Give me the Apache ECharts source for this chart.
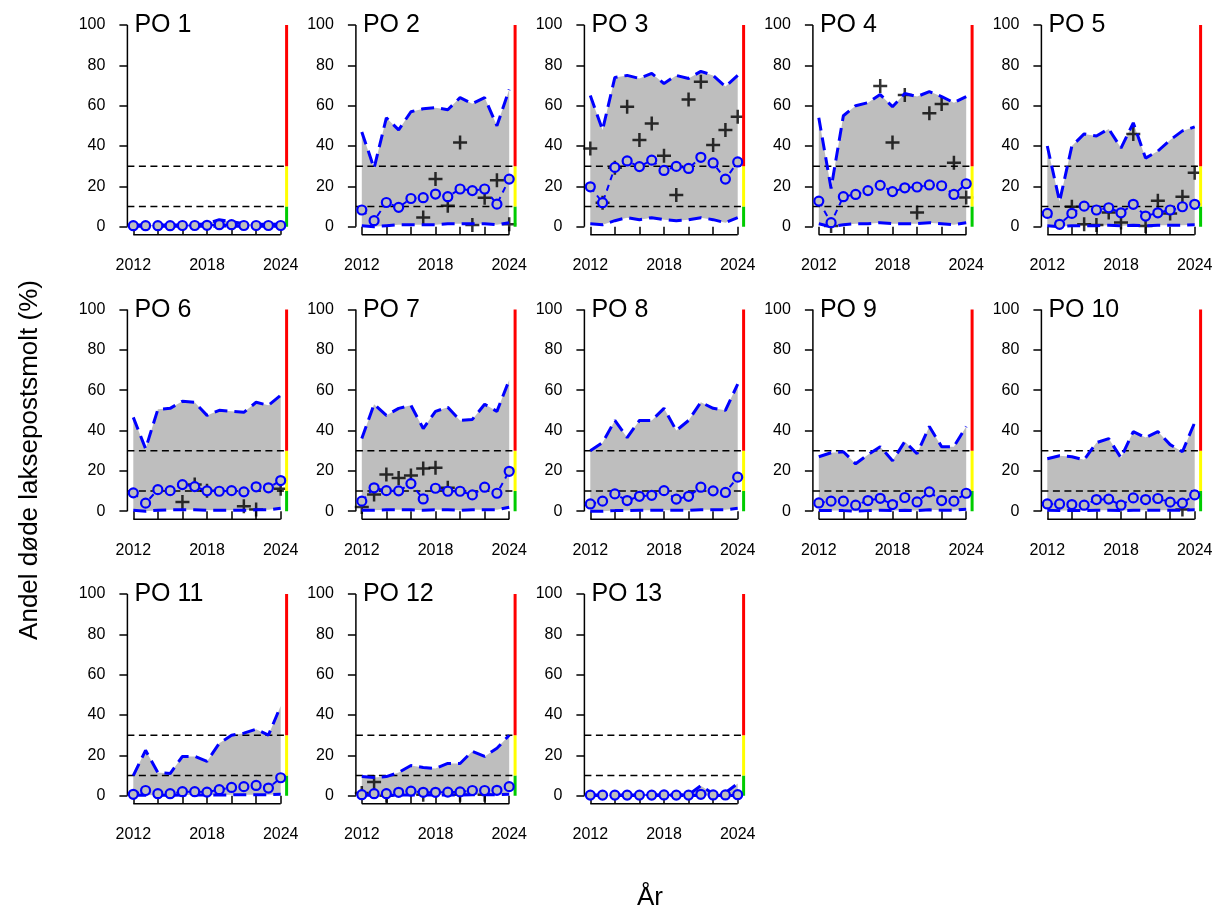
<!DOCTYPE html>
<html><head><meta charset="utf-8">
<script src="https://cdn.jsdelivr.net/npm/echarts@6/dist/echarts.min.js"></script>
<style>html,body{margin:0;padding:0;background:#fff}#c{width:1217px;height:909px}</style>
</head><body><div id="c"></div>
<script>
// ---------- data ----------
const years = [2012,2013,2014,2015,2016,2017,2018,2019,2020,2021,2022,2023,2024];
const panelNames = ['PO 1','PO 2','PO 3','PO 4','PO 5','PO 6','PO 7','PO 8','PO 9','PO 10','PO 11','PO 12','PO 13'];
const xLabelValues = [2012, 2018, 2024];
const xTickValues = [2012, 2014, 2016, 2018, 2020, 2022, 2024];
const yTickValues = [0, 20, 40, 60, 80, 100];
const thresholds = [10, 30];
const statusBreaks = [0, 10, 30, 100];
const statusColors = ['#00CC00', '#FFFF00', '#FF0000'];
const yAxisTitle = 'Andel døde laksepostsmolt (%)';
const xAxisTitle = 'År';

const upperLimits = [
  [0.8,0.8,0.8,0.9,0.9,1,1.5,3.5,2.5,1.5,1.2,1.2,1.3],
  [47,29,54,48,57,58.5,59,58,64,61,64,50,68],
  [65,48,74,75,73.5,76,71,75,73.5,77,75,69.5,75],
  [54,19,55,60,61.5,65.5,59.5,66,64.5,67,64.5,61.5,64.5],
  [40,12.5,40,46,45,48.5,39,51.5,34,37.5,43,47.5,49.5],
  [46.5,31,50.5,51,54.5,54,47.5,50,49.5,49,54,52.5,57.5],
  [36,53,47.5,51,52.5,41,49.5,51.5,45,45.5,53,49.5,65],
  [30,34,45,36.5,45,45,51,40,45,54,51,50,63],
  [27,29,29.5,23.5,28,32,25,34.5,28.5,42,32,32,42],
  [26,27.5,27,25.5,34,36,26.5,39.5,36.5,39.5,33,29.5,44],
  [10,22.5,11.5,11,19.5,19.5,17,26,30,31,33,30,44.5],
  [9.5,9,9.5,11.5,15,14,13.5,16,16,22,19.5,23.5,30],
  [0.4,0.4,0.4,0.4,0.4,0.4,0.5,0.5,0.5,5,1,1.5,6]
];
const lowerLimits = [
  [0.2,0.2,0.2,0.2,0.2,0.2,0.2,0.3,0.3,0.2,0.2,0.2,0.2],
  [0.5,0,0.5,1,1,1,1,1.5,1.5,1.5,1.5,1,2],
  [1.5,1,3,4.5,3.5,4.5,3.5,3,3.5,4.5,3.5,2,4.5],
  [1.5,0,1,1.5,1.5,2,1.5,1.5,1.5,2,1.5,1,2],
  [0.5,0,0.5,0.5,0.5,0.7,0.5,0.7,0.5,0.7,0.7,0.7,1],
  [0.5,0,0.5,0.7,0.7,0.7,0.5,0.5,0.5,0.5,0.7,0.7,1.5],
  [0.5,0.5,0.7,0.7,0.7,0.5,0.7,0.7,0.5,0.7,0.7,0.7,2],
  [0,0,0.3,0.3,0.5,0.5,0.5,0.5,0.5,0.7,0.7,0.7,1.5],
  [0.3,0.3,0.3,0,0.3,0.5,0.3,0.5,0.3,0.7,0.5,0.5,1],
  [0.5,0.3,0.3,0.3,0.5,0.5,0.3,0.5,0.5,0.5,0.5,0.5,0.7],
  [0.2,0.3,0.2,0.2,0.3,0.3,0.3,0.3,0.5,0.5,0.5,0.5,0.7],
  [0.2,0.2,0.2,0.3,0.3,0.3,0.3,0.3,0.3,0.5,0.5,0.5,0.7],
  [0.1,0.1,0.1,0.1,0.1,0.1,0.1,0.1,0.1,0.1,0.1,0.1,0.1]
];
const medians = [
  [0.5,0.5,0.5,0.5,0.6,0.6,0.7,1,1,0.6,0.6,0.6,0.6],
  [8.3,3,12,9.6,14,14.4,16.2,14.9,18.7,17.9,18.7,11.2,23.6],
  [19.8,11.9,29.4,32.6,29.8,33,27.9,29.9,28.9,34.4,31.6,23.6,32.1],
  [12.7,2,14.9,16,17.9,20.5,17.4,19.3,19.7,20.7,20.3,16,21.3],
  [6.6,1.2,6.6,10.2,8.3,9.4,6.9,11.1,5.3,6.9,8.3,9.9,11.1],
  [9.1,4,10.7,10.2,13.2,12.2,10.1,9.9,10.2,9.6,12.1,11.6,15.2],
  [5,11.6,10.2,10.1,13.7,6.1,11.4,9.9,9.9,8.1,11.9,8.9,19.8],
  [3.6,5,8.6,5.3,7.4,7.9,10.2,6,7.4,11.9,10.1,9.3,16.9],
  [4.1,5,5,3,5.3,6.4,3.3,6.8,4.6,9.6,5.3,5,8.9],
  [3.6,3.6,3.3,3,5.8,6,3,6.6,5.8,6.3,4.5,4,8.1],
  [0.7,2.6,1,1,2,2,1.8,3,4.1,4.5,5.1,3.8,8.9],
  [0.5,1,1,1.7,2.3,1.7,1.7,1.8,1.9,2.6,2.6,2.7,4.5],
  [0.3,0.3,0.3,0.3,0.3,0.3,0.4,0.3,0.3,0.7,0.4,0.4,0.5]
];
const N = null;
const observed = [
  [N,N,N,N,N,N,N,N,N,N,N,N,N],
  [N,N,N,N,N,4.6,23.6,10.4,41.8,0.8,14.4,23,1.2],
  [38.8,11.9,29.2,59.5,43,51.2,35.2,15.7,63.1,71.9,40.5,47.9,54.5],
  [N,0.3,N,N,N,69.8,41.7,65.3,7.1,56.2,60.8,31.7,14.5],
  [N,N,9.9,1.2,0.8,7.1,2.1,46,0.3,12.9,6.6,14.9,26.8],
  [N,N,N,N,4.6,13.2,10.2,N,N,2.5,0.8,N,11.2],
  [2.1,8.3,18.2,16.5,17.7,21.2,21.5,11.6,N,N,N,N,N],
  [N,N,N,N,N,N,N,N,N,N,N,N,N],
  [N,N,N,N,N,N,N,N,N,N,N,N,N],
  [N,N,N,N,N,N,N,N,N,N,N,0.8,N],
  [N,N,N,N,N,N,N,N,N,N,N,N,N],
  [1.3,6.8,0,N,N,0.5,N,N,0.5,N,0.5,N,N],
  [N,N,N,N,N,N,N,N,N,N,N,N,N]
];

// ---------- layout / style ----------
const FONT = '"Liberation Sans", Arial, Helvetica, sans-serif';
const X_MIN = 2011.52, X_MAX = 2024.48, Y_MIN = -4, Y_MAX = 104;
const BLUE = '#0000FF', GREY = '#BEBEBE';
const PLUS = 'path://M-1.25,-7H1.25V-1.25H7V1.25H1.25V7H-1.25V1.25H-7V-1.25H-1.25Z';

const grid = [], xAxis = [], yAxis = [], series = [], graphic = [];

panelNames.forEach((name, i) => {
  const r = Math.floor(i / 5), c = i % 5;
  const left = 127.4 + 228.5 * c, top = 16.9 + 284.5 * r;
  grid.push({ left: left, top: top, width: 159.2, height: 217.9 });
  xAxis.push({
    type: 'value', gridIndex: i, min: X_MIN, max: X_MAX,
    axisLine: { show: false }, splitLine: { show: false },
    axisTick: { show: true, customValues: xTickValues, length: 8, lineStyle: { color: '#000', width: 1.5 } },
    axisLabel: { show: true, customValues: xLabelValues, margin: 23, fontSize: 16, color: '#000', fontFamily: FONT, formatter: v => String(v) }
  });
  yAxis.push({
    type: 'value', gridIndex: i, min: Y_MIN, max: Y_MAX,
    axisLine: { show: false }, splitLine: { show: false },
    axisTick: { show: true, customValues: yTickValues, length: 8, lineStyle: { color: '#000', width: 1.5 } },
    axisLabel: { show: true, customValues: yTickValues, margin: 22, fontSize: 16, color: '#000', fontFamily: FONT, formatter: v => String(v) }
  });
  graphic.push({
    type: 'text', left: left + 7, top: top - 4, silent: true,
    style: { text: name, font: '25px ' + FONT, fill: '#000' }
  });

  const up = upperLimits[i], lo = lowerLimits[i], md = medians[i], ob = observed[i];
  const base = { xAxisIndex: i, yAxisIndex: i, silent: true, animation: false };
  // uncertainty band as polygon through axis scales
  series.push(Object.assign({}, base, {
    type: 'custom', z: 1,
    data: [[years[0], up[0]]],
    renderItem: function (params, api) {
      const pts = [];
      for (let k = 0; k < years.length; k++) pts.push(api.coord([years[k], up[k]]));
      for (let k = years.length - 1; k >= 0; k--) pts.push(api.coord([years[k], lo[k]]));
      return { type: 'polygon', shape: { points: pts }, style: { fill: GREY, stroke: null } };
    }
  }));
  // threshold lines
  thresholds.forEach(t => {
    series.push(Object.assign({}, base, {
      type: 'line', symbol: 'none', data: [[X_MIN, t], [X_MAX, t]],
      lineStyle: { color: '#000', width: 1.5, type: [7, 4.5] }
    }));
  });
  // upper / lower limit lines
  [up, lo].forEach(arr => {
    series.push(Object.assign({}, base, {
      type: 'line', symbol: 'none', data: years.map((y, k) => [y, arr[k]]),
      lineStyle: { color: BLUE, width: 3, type: [13, 7] }
    }));
  });
  // median
  series.push(Object.assign({}, base, {
    type: 'line', symbol: 'circle', symbolSize: 9, showSymbol: true, showAllSymbol: true,
    data: years.map((y, k) => [y, md[k]]),
    lineStyle: { color: BLUE, width: 2, type: [6, 5] },
    itemStyle: { color: GREY, borderColor: BLUE, borderWidth: 2.2 }
  }));
  // observed
  series.push(Object.assign({}, base, {
    type: 'scatter', symbol: PLUS, symbolSize: 14,
    data: years.map((y, k) => [y, ob[k]]).filter(p => p[1] !== null),
    itemStyle: { color: '#000' }
  }));
  // axis lines (R style: spanning ticks only)
  series.push(Object.assign({}, base, {
    type: 'line', symbol: 'none', clip: false,
    data: [[xTickValues[0], Y_MIN], [xTickValues[xTickValues.length - 1], Y_MIN]],
    lineStyle: { color: '#000', width: 1.5 }
  }));
  series.push(Object.assign({}, base, {
    type: 'line', symbol: 'none', clip: false,
    data: [[X_MIN, yTickValues[0]], [X_MIN, yTickValues[yTickValues.length - 1]]],
    lineStyle: { color: '#000', width: 1.5 }
  }));
  // status bar on right edge
  statusColors.forEach((col, k) => {
    series.push(Object.assign({}, base, {
      type: 'line', symbol: 'none', clip: false,
      data: [[X_MAX, statusBreaks[k]], [X_MAX, statusBreaks[k + 1]]],
      lineStyle: { color: col, width: 3, cap: 'butt' }
    }));
  });
});

graphic.push({
  type: 'text', x: 30, y: 460, rotation: Math.PI / 2, silent: true,
  style: { text: yAxisTitle, font: '26px ' + FONT, fill: '#000', align: 'center', verticalAlign: 'middle' }
});
graphic.push({
  type: 'text', x: 650, y: 898, silent: true,
  style: { text: xAxisTitle, font: '26px ' + FONT, fill: '#000', align: 'center', verticalAlign: 'middle' }
});

const chart = echarts.init(document.getElementById('c'), null, { renderer: 'canvas' });
chart.setOption({ animation: false, backgroundColor: '#fff', grid, xAxis, yAxis, series, graphic });
</script>
</body></html>
